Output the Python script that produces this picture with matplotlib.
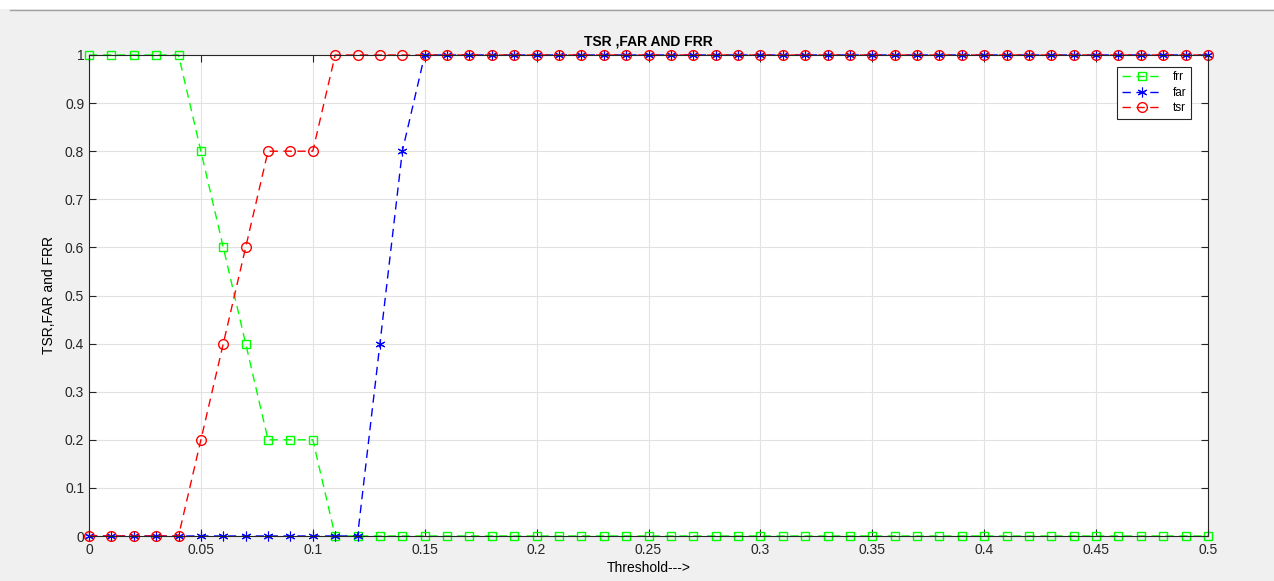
import matplotlib.pyplot as plt
import matplotlib.patches as mpatches
import numpy as np

plt.rcParams['font.family'] = ['Liberation Sans', 'DejaVu Sans']

# threshold 0:0.01:0.5
threshold = np.round(np.arange(0, 0.501, 0.01), 2)

frr = [1, 1, 1, 1, 1, 0.8, 0.6, 0.4, 0.2, 0.2, 0.2] + [0] * 40
far = [0] * 13 + [0.4, 0.8] + [1] * 36
tsr = [0, 0, 0, 0, 0, 0.2, 0.4, 0.6, 0.8, 0.8, 0.8] + [1] * 40

fig = plt.figure(figsize=(12.74, 5.81), dpi=100, facecolor='#f0f0f0')

# white strip at top of the screenshot
fig.patches.append(mpatches.Rectangle((0, 1 - 9 / 581), 1, 9 / 581, transform=fig.transFigure,
                                      facecolor='white', edgecolor='none'))
fig.lines.append(plt.Line2D([0.008, 1], [1 - 9.5 / 581] * 2, transform=fig.transFigure,
                            color='#a0a0a0', linewidth=1))

ax = fig.add_axes([89 / 1274, 1 - 536 / 581, (1208 - 89) / 1274, (536 - 55) / 581])

asterisk = (6, 2, 0)
dash = (0, (6, 4))
ax.plot(threshold, frr, marker='s', linestyle=dash, color='#00ff00', mfc='none', markersize=6,
        linewidth=1, mew=1, label='frr', clip_on=False)
ax.plot(threshold, far, marker=asterisk, linestyle=dash, color='#0000ff', markersize=7,
        linewidth=1, mew=0.8, label='far', clip_on=False)
ax.plot(threshold, tsr, marker='o', linestyle=dash, color='#ff0000', mfc='none', markersize=7,
        linewidth=1, mew=1, label='tsr', clip_on=False)

ax.set_xlim(0, 0.5)
ax.set_ylim(0, 1)
ax.set_xticks(np.arange(0, 0.51, 0.05))
ax.set_xticklabels(['0', '0.05', '0.1', '0.15', '0.2', '0.25', '0.3', '0.35', '0.4', '0.45', '0.5'])
ax.set_yticks(np.arange(0, 1.01, 0.1))
ax.set_yticklabels(['0', '0.1', '0.2', '0.3', '0.4', '0.5', '0.6', '0.7', '0.8', '0.9', '1'])
ax.tick_params(direction='in', top=True, right=True, labelsize=10, colors='#262626', length=5)
ax.tick_params(axis='x', pad=5)
for s in ax.spines.values():
    s.set_color('#262626')
    s.set_linewidth(0.8)

ax.grid(True, color='#e2e2e2', linewidth=0.8)
ax.set_axisbelow(True)

ax.set_title('TSR ,FAR AND FRR', fontsize=10, fontweight='bold', pad=7)
ax.set_xlabel('Threshold--->', fontsize=10, labelpad=3)
ax.set_ylabel('TSR,FAR and FRR', fontsize=10, labelpad=6)

leg = ax.legend(loc='upper right', bbox_to_anchor=(0.99, 0.988), fontsize=8.5, fancybox=False,
                edgecolor='#262626', framealpha=1, handlelength=3.5, borderpad=0.4, labelspacing=0.3)
leg.get_frame().set_linewidth(0.8)

fig.savefig('out.png', dpi=100, facecolor=fig.get_facecolor())
